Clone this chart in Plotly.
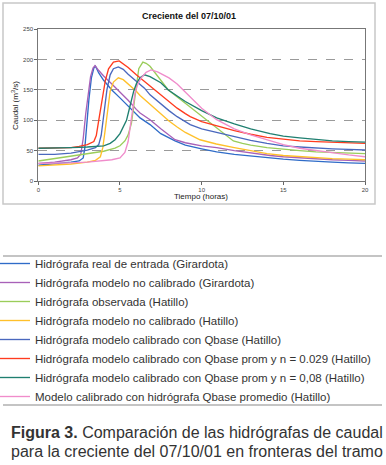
import plotly.graph_objects as go

W, H = 386, 465

# ---- data (time in hours, discharge in m3/s) ----
t_gir_real = [0, 1, 2, 2.5, 2.75, 2.85, 2.95, 3.1, 3.25, 3.4, 3.5, 3.7, 4, 4.5, 5, 5.5, 6, 6.23, 6.84, 7.5, 8.37, 9, 10, 10.92, 12, 13, 14.19, 15, 16, 17, 18, 19, 20]
q_gir_real = [26, 28, 31, 33, 38, 55, 90, 135, 170, 186, 189, 178, 166, 150, 137, 124, 110, 104, 93, 78, 66, 59, 53, 48, 44, 41, 37.5, 36, 34, 32, 31, 30, 29]

t_gir_mod = [0, 1, 2, 2.4, 2.6, 2.75, 2.9, 3.05, 3.2, 3.35, 3.47, 3.7, 4, 4.5, 5, 5.5, 6, 6.23, 6.84, 7.5, 8.37, 9, 10, 10.92, 12, 13, 14.19, 15, 16, 17, 18, 19, 20]
q_gir_mod = [29, 31, 35, 38, 44, 70, 110, 145, 172, 186, 190, 182, 173, 160, 147, 133, 118, 112, 101, 86, 68, 63, 58, 55, 50, 46, 42, 40, 38, 36, 35, 34, 33]

t_obs = [0, 1, 2, 3, 4, 4.7, 5, 5.3, 5.5, 5.7, 5.85, 6, 6.15, 6.4, 6.6, 6.84, 7.5, 7.96, 9, 10, 11, 11.94, 12.5, 13, 14, 15, 16, 17, 18, 19, 20]
q_obs = [33, 37, 41, 44, 49, 54, 58, 66, 76, 95, 125, 160, 185, 196, 194, 189, 167, 150, 128, 107, 86, 66, 62, 59, 55, 52, 50, 48, 47, 46, 45]

t_nocal = [0, 1, 2, 3, 3.5, 3.8, 3.95, 4.1, 4.25, 4.4, 4.6, 4.9, 5.2, 5.6, 6, 6.23, 6.84, 7.5, 8, 8.5, 9, 9.9, 10.9, 12, 13, 14, 15, 16, 17, 18, 19, 20]
q_nocal = [25, 26, 28, 31, 34, 40, 55, 85, 120, 148, 163, 170, 167, 158, 148, 141, 126, 110, 99, 89, 80, 68, 61, 55, 50, 45, 42, 40, 38, 37, 36, 35]

t_qbase = [0, 1, 2, 2.5, 3, 3.5, 3.7, 3.85, 4, 4.2, 4.4, 4.6, 4.9, 5.2, 5.5, 6, 6.23, 6.5, 6.84, 7.5, 8, 8.5, 9.3, 10, 10.9, 12, 13, 14, 15, 16, 17, 18, 19, 20]
q_qbase = [44, 44, 46, 48, 51, 55, 60, 75, 110, 150, 175, 185, 188, 184, 176, 165, 159, 153, 142, 127, 116, 106, 93, 86, 80, 73, 67, 62, 58, 56, 54, 53, 52, 51]

t_n029 = [0, 1, 2, 2.5, 3, 3.4, 3.55, 3.7, 3.9, 4.1, 4.3, 4.6, 4.95, 5.5, 6, 6.5, 7, 7.5, 8, 8.5, 9, 9.3, 10, 11, 12, 13, 14, 15, 16, 17, 18, 19, 20]
q_n029 = [54, 54, 55, 57, 60, 65, 75, 100, 135, 165, 185, 196, 198, 187, 175, 164, 152, 141, 130, 120, 111, 106, 98, 90, 83, 77, 72, 69, 66, 65, 64, 63, 62]

t_n08 = [0, 1, 2, 3, 3.5, 4, 4.4, 4.7, 5, 5.2, 5.4, 5.6, 5.84, 6, 6.23, 6.5, 6.84, 7.5, 7.96, 8.5, 9, 10, 10.92, 12, 13, 14.19, 15, 16, 17, 18, 19, 20]
q_n08 = [54, 54, 55, 56, 57, 58, 62, 68, 78, 88, 100, 122, 148, 160, 170, 175, 172, 162, 150, 140, 131, 116, 104, 94, 86, 78, 74, 71, 68, 66, 65, 64]

t_prom = [0, 1, 2, 3, 4, 4.5, 5, 5.3, 5.5, 5.65, 5.8, 5.92, 6.1, 6.3, 6.6, 6.9, 7.3, 8, 8.5, 9.29, 10, 10.92, 12, 13, 14.19, 15, 16, 17, 18, 19, 20]
q_prom = [29, 29, 30, 31, 33, 35, 38, 47, 65, 92, 122, 145, 160, 170, 179, 183, 180, 170, 160, 139, 120, 101, 86, 76, 66, 60, 54, 50, 46, 43, 40]

series_names = [
    "Hidrógrafa real de entrada (Girardota)",
    "Hidrógrafa modelo no calibrado (Girardota)",
    "Hidrógrafa observada (Hatillo)",
    "Hidrógrafa modelo no calibrado (Hatillo)",
    "Hidrógrafa modelo calibrado con Qbase (Hatillo)",
    "Hidrógrafa modelo calibrado con Qbase prom y n = 0.029 (Hatillo)",
    "Hidrógrafa modelo calibrado con Qbase prom y n = 0,08 (Hatillo)",
    "Modelo calibrado con hidrógrafa Qbase promedio (Hatillo)",
]
series_t = [t_gir_real, t_gir_mod, t_obs, t_nocal, t_qbase, t_n029, t_n08, t_prom]
series_q = [q_gir_real, q_gir_mod, q_obs, q_nocal, q_qbase, q_n029, q_n08, q_prom]
series_colors = ["#2F6CC8", "#A861B8", "#9ACD5A", "#FFC02A", "#4A68BE", "#FF3B1F", "#1F7F70", "#F08CCB"]

x_ticks = [0, 5, 10, 15, 20]
y_ticks = [0, 50, 100, 150, 200, 250]

# ---- figure ----
fig = go.Figure()
for name, tt, qq, col in zip(series_names, series_t, series_q, series_colors):
    fig.add_trace(go.Scatter(x=tt, y=qq, mode="lines", name=name,
                             line=dict(color=col, width=1.35)))

def px_x(p):
    return p / W

def px_y(p):
    return 1 - p / H

FONT = "Liberation Sans, Arial, sans-serif"

fig.update_layout(
    width=W, height=H,
    margin=dict(l=0, r=0, t=0, b=0, autoexpand=False),
    paper_bgcolor="white", plot_bgcolor="white",
    font=dict(family=FONT, color="#333333"),
    showlegend=True,
    legend=dict(x=px_x(-5), y=px_y(249), xanchor="left", yanchor="top",
                font=dict(size=11.5, color="#333333", family=FONT),
                bgcolor="rgba(0,0,0,0)", borderwidth=0,
                itemwidth=30, tracegroupgap=0),
    xaxis=dict(domain=[px_x(38.3), px_x(365)], range=[x_ticks[0], x_ticks[-1]],
               tickvals=x_ticks, ticks="outside", ticklen=3, tickcolor="#666666",
               tickfont=dict(size=6, color="#444444"),
               showline=True, linecolor="#777777", linewidth=1, mirror=True,
               showgrid=False, zeroline=False, fixedrange=True),
    yaxis=dict(domain=[px_y(181), px_y(29.3)], range=[y_ticks[0], y_ticks[-1]],
               tickvals=y_ticks, ticks="outside", ticklen=3, tickcolor="#666666",
               tickfont=dict(size=6, color="#444444"),
               showline=True, linecolor="#777777", linewidth=1, mirror=True,
               showgrid=True, gridcolor="#9a9a9a", griddash="dash", gridwidth=1,
               zeroline=False, fixedrange=True),
)

annotations = [
    dict(text="<b>Creciente del 07/10/01</b>", x=px_x(189), y=px_y(16),
         font=dict(size=9, color="#111111")),
    dict(text="Caudal (m<sup>3</sup>/s)", x=px_x(15), y=px_y(106), textangle=-90,
         font=dict(size=8, color="#222222")),
    dict(text="Tiempo (horas)", x=px_x(201), y=px_y(197),
         font=dict(size=8, color="#222222")),
    dict(text="<b>Figura 3.</b> Comparación de las hidrógrafas de caudal",
         x=px_x(9), y=px_y(432), xanchor="left",
         font=dict(size=16, color="#333333")),
    dict(text="para la creciente del 07/10/01 en fronteras del tramo",
         x=px_x(9), y=px_y(451), xanchor="left",
         font=dict(size=16, color="#333333")),
]
for a in annotations:
    a.setdefault("xanchor", "center")
    a.update(xref="paper", yref="paper", showarrow=False, yanchor="middle")
fig.update_layout(annotations=annotations)

shapes = [
    # outer chart frame
    dict(type="rect", x0=px_x(3), x1=px_x(375), y0=px_y(204), y1=px_y(3),
         line=dict(color="#c8c8c8", width=1.5)),
    # legend top/bottom rules
    dict(type="line", x0=px_x(3), x1=px_x(382), y0=px_y(256), y1=px_y(256),
         line=dict(color="#c4c4c4", width=2)),
    dict(type="line", x0=px_x(3), x1=px_x(382), y0=px_y(405), y1=px_y(405),
         line=dict(color="#c4c4c4", width=2)),
]
for s in shapes:
    s.update(xref="paper", yref="paper")
fig.update_layout(shapes=shapes)

fig.write_html("out.html", config=dict(displayModeBar=False),
               post_script="document.body.style.margin='0';document.body.style.overflow='hidden';")
